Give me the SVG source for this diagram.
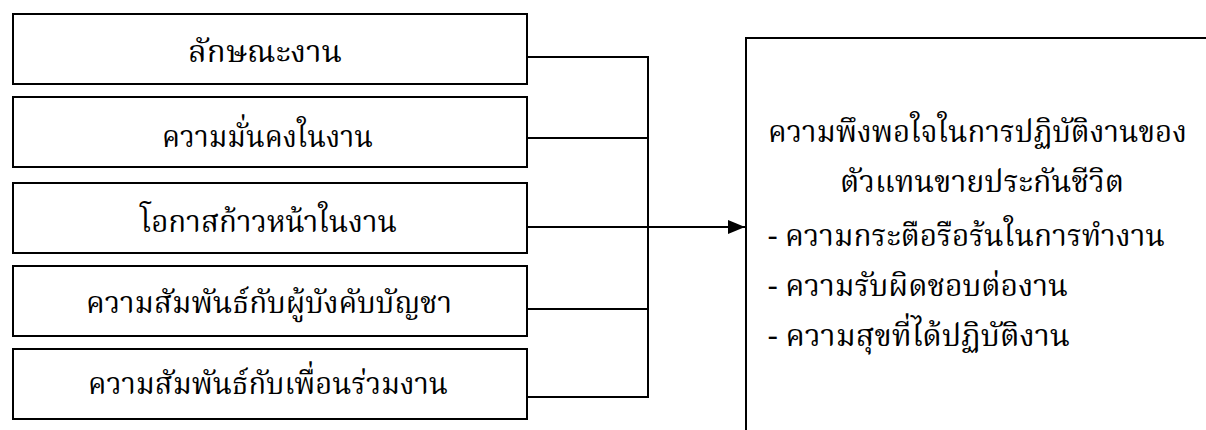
<svg xmlns="http://www.w3.org/2000/svg" width="1206" height="430" viewBox="0 0 1206 430">
<style>
.box{fill:#fff;stroke:#000;stroke-width:2}
.ln{fill:none;stroke:#000;stroke-width:2}
text{font-family:"Noto Serif Thai","Noto Sans Thai Looped","Noto Sans Thai","Noto Sans","DejaVu Sans",sans-serif;font-size:31px;font-weight:400;fill:#000}
</style>
<defs>
<marker id="ah" viewBox="0 0 17 14" refX="17" refY="7" markerWidth="17" markerHeight="14" markerUnits="userSpaceOnUse" orient="auto">
<path d="M0,0 L17,7 L0,14 Z" fill="#000"/>
</marker>
</defs>
<rect width="1206" height="430" fill="#fff"/>
<g id="connectors">
<path class="ln" d="M527,57 H648 M527,138 H648 M527,309 H648 M527,397 H648 M648,56 V398"/>
<path class="ln" d="M527,227 H745" marker-end="url(#ah)"/>
</g>
<g id="n1"><rect class="box" x="13" y="14" width="514" height="70"/><text x="188" y="62" textLength="154" lengthAdjust="spacingAndGlyphs">ลักษณะงาน</text></g>
<g id="n2"><rect class="box" x="13" y="97" width="514" height="70"/><text x="162" y="147" textLength="211" lengthAdjust="spacingAndGlyphs">ความมั่นคงในงาน</text></g>
<g id="n3"><rect class="box" x="13" y="183" width="514" height="70"/><text x="140" y="232" textLength="257" lengthAdjust="spacingAndGlyphs">โอกาสก้าวหน้าในงาน</text></g>
<g id="n4"><rect class="box" x="13" y="266" width="514" height="70"/><text x="86" y="313" textLength="366" lengthAdjust="spacingAndGlyphs">ความสัมพันธ์กับผู้บังคับบัญชา</text></g>
<g id="n5"><rect class="box" x="13" y="349" width="514" height="70"/><text x="88" y="394" textLength="360" lengthAdjust="spacingAndGlyphs">ความสัมพันธ์กับเพื่อนร่วมงาน</text></g>
<g id="n6"><rect class="box" x="746" y="38" width="480" height="410"/>
<text x="768" y="142" textLength="419" lengthAdjust="spacingAndGlyphs">ความพึงพอใจในการปฏิบัติงานของ</text>
<text x="840" y="192" textLength="284" lengthAdjust="spacingAndGlyphs">ตัวแทนขายประกันชีวิต</text>
<text x="768" y="246" textLength="397" lengthAdjust="spacingAndGlyphs">- ความกระตือรือร้นในการทำงาน</text>
<text x="768" y="296" textLength="300" lengthAdjust="spacingAndGlyphs">- ความรับผิดชอบต่องาน</text>
<text x="768" y="346" textLength="302" lengthAdjust="spacingAndGlyphs">- ความสุขที่ได้ปฏิบัติงาน</text>
</g>
</svg>
